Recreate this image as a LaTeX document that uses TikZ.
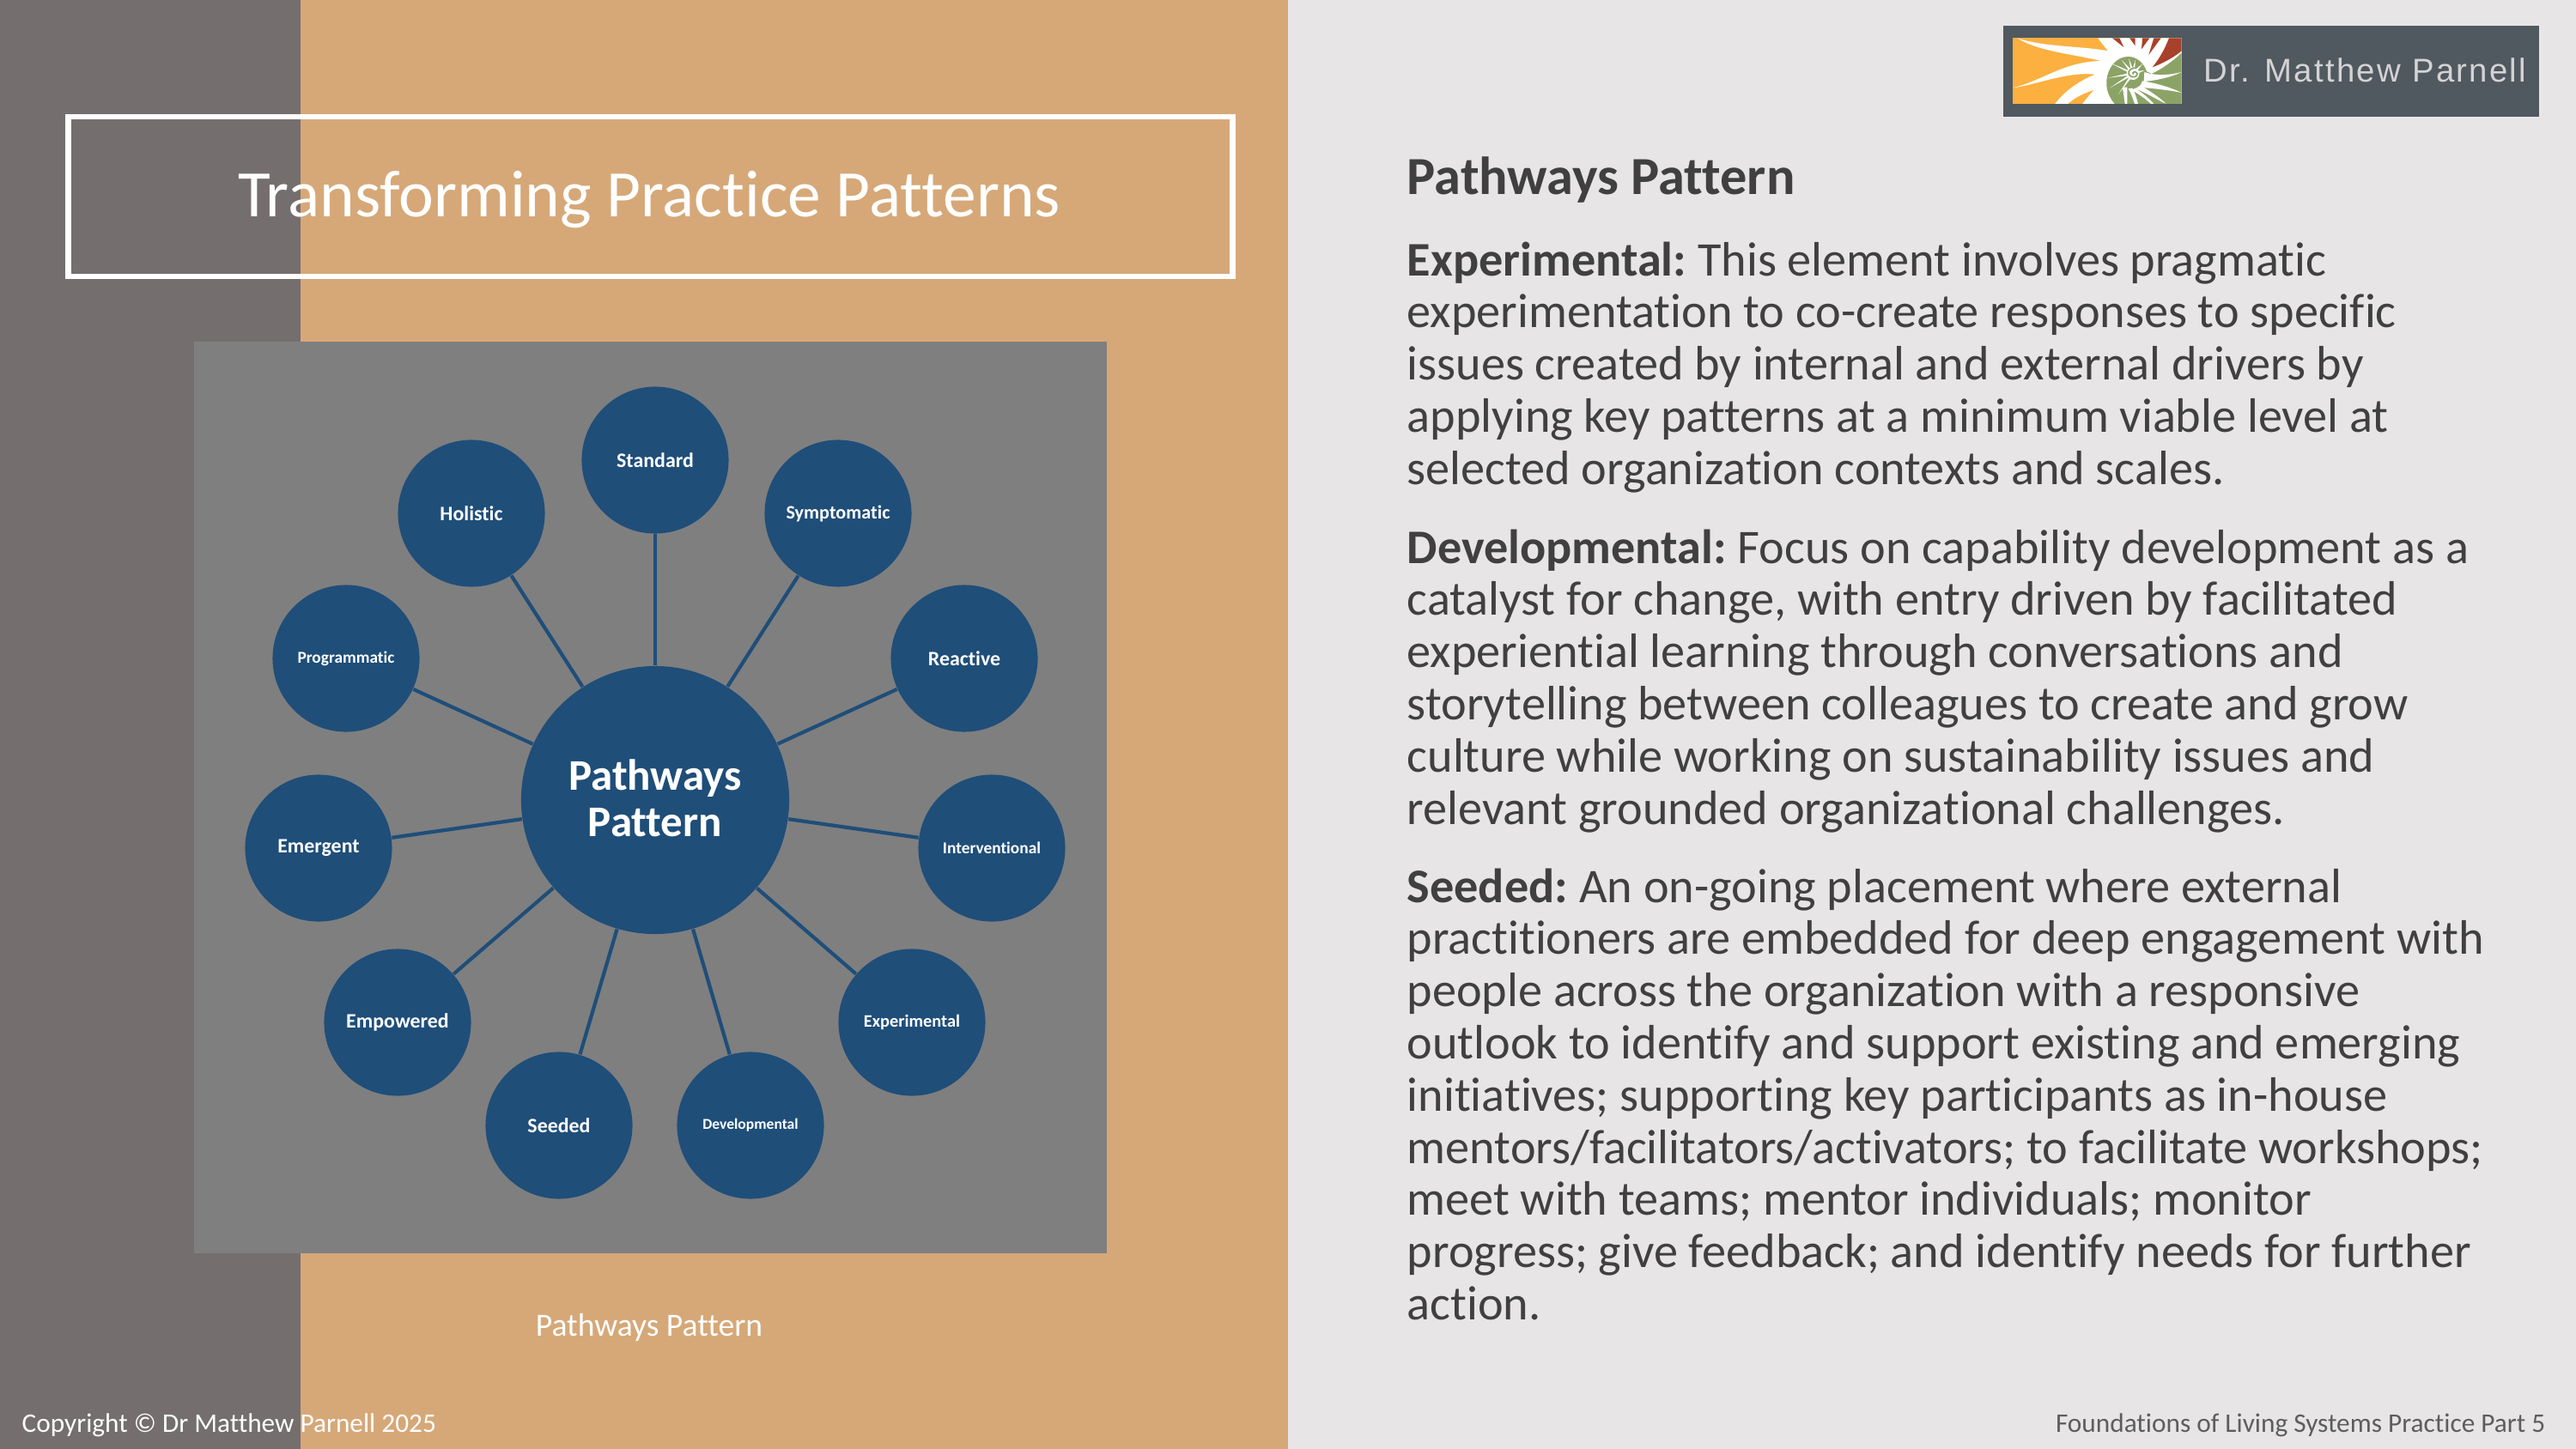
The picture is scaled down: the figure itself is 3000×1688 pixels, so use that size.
\documentclass[tikz,border=0pt]{standalone}
\usepackage{fontspec}
\setmainfont[Ligatures=NoCommon]{Carlito}
\newfontfamily\logofont[LetterSpace=6]{Liberation Sans}
\definecolor{tanbg}{HTML}{D6A878}
\definecolor{darkbg}{HTML}{746E6E}
\definecolor{panelbg}{HTML}{E7E5E6}
\definecolor{boxgray}{HTML}{7F7F7F}
\definecolor{hubblue}{HTML}{1F4E79}
\definecolor{logobar}{HTML}{505860}
\definecolor{bodytext}{HTML}{404040}
\definecolor{logoorange}{HTML}{FBB040}
\definecolor{logogreen}{HTML}{8CA366}
\definecolor{logored}{HTML}{A8412B}
\newcommand{\leadin}[1]{\textbf{#1}\kern-1.1pt\relax}
\tikzset{
  hub/.style={circle,fill=hubblue,text=white,minimum size=3.12cm,inner sep=0pt,align=center,font=\fontsize{14.5}{15.6}\selectfont\bfseries},
  leaf/.style={circle,fill=hubblue,text=white,minimum size=1.71cm,inner sep=0pt,align=center,font=\fontsize{#1}{9}\selectfont\bfseries},
  leaf/.default=6.8,
  spoke/.style={draw=hubblue,line width=1.2pt},
  para/.style={anchor=north west,inner sep=0pt,align=left,text=bodytext,font=\fontsize{16}{17.28}\selectfont},
}
\begin{document}
\begin{tikzpicture}[x=0.01cm,y=-0.01cm]
\useasboundingbox (0,0) rectangle (3000,1688);
% background
\fill[tanbg] (0,0) rectangle (1500,1688);
\fill[darkbg] (0,0) rectangle (350,1688);
\fill[panelbg] (1500,0) rectangle (3000,1688);
% title
\node[draw=white,line width=1.8pt,minimum width=13.55cm,minimum height=1.86cm,inner sep=0pt] (titlebox) at (757.5,229) {};
\node[text=white,font=\fontsize{22}{24}\selectfont,inner sep=0pt] (titletext) at (756,233) {Transforming Practice Patterns};
% wheel
\fill[boxgray] (226,398) rectangle (1289,1460);
\node[hub] (pathways) at (763,932) {Pathways\\Pattern\rule[-1.4pt]{0pt}{1.4pt}};
\node[leaf] (standard) at (763,536) {Standard};
\node[leaf=6.3] (symptomatic) at (976,598) {Symptomatic};
\node[leaf] (reactive) at (1123,767) {Reactive};
\node[leaf=5.5] (interventional) at (1155,988) {Interventional};
\node[leaf=5.8] (experimental) at (1062,1191) {Experimental};
\node[leaf=5] (developmental) at (874,1311) {Developmental};
\node[leaf] (seeded) at (651,1311) {Seeded};
\node[leaf] (empowered) at (463,1191) {Empowered};
\node[leaf] (emergent) at (371,988) {Emergent};
\node[leaf=5.5] (programmatic) at (403,767) {Programmatic};
\node[leaf] (holistic) at (549,598) {Holistic};
\foreach \n in {standard,symptomatic,reactive,interventional,experimental,developmental,seeded,empowered,emergent,programmatic,holistic}
  \draw[spoke] (pathways) -- (\n);
\node[text=white,font=\fontsize{10.7}{12}\selectfont,inner sep=0pt] (caption) at (756,1546) {Pathways Pattern};
% logo
\fill[logobar] (2333,30) rectangle (2957,136);
\begin{scope}[shift={(2340,40)},xscale=0.3333,yscale=0.3333]
\clip (12,13) rectangle (602,243);
\fill[logoorange] (12,13) rectangle (602,243);
% white swirl
\fill[white] (28,13) .. controls (120,45) and (250,40) .. (345,58) .. controls (330,40) and (318,25) .. (310,13) -- (602,13) -- (602,243) -- (160,243) .. controls (195,195) and (250,160) .. (300,140) .. controls (200,130) and (100,175) .. (12,187) .. controls (110,165) and (190,95) .. (320,93) .. controls (230,70) and (100,60) .. (28,13) -- cycle;
\fill[logoorange] (205,243) .. controls (230,220) and (265,205) .. (295,195) .. controls (280,210) and (265,230) .. (255,243) -- cycle;
% red wedges
\fill[logored] (360,13) -- (400,45) -- (385,13) -- cycle;
\fill[logored] (420,13) -- (440,40) -- (440,13) -- cycle;
\fill[logored] (465,13) -- (462,52) -- (490,13) -- cycle;
\fill[logored] (505,13) -- (487,72) -- (530,13) -- cycle;
\fill[logored] (558,13) .. controls (540,60) and (520,90) .. (500,115) .. controls (540,100) and (575,80) .. (602,58) -- (602,13) -- cycle;
% green disc and right part
\fill[logogreen] (415,78) .. controls (445,78) and (470,100) .. (480,130) -- (498,138) .. controls (535,120) and (570,95) .. (602,65) -- (602,243) -- (368,243) .. controls (345,215) and (338,190) .. (340,160) .. controls (345,115) and (375,78) .. (415,78) -- cycle;
% rays and spiral
\fill[white] (472,132) .. controls (520,148) and (570,140) .. (602,132) .. controls (565,150) and (520,160) .. (470,165) -- cycle;
\fill[white] (465,163) .. controls (520,172) and (570,188) .. (602,204) .. controls (560,195) and (510,190) .. (455,185) -- cycle;
\fill[white] (458,178) .. controls (490,198) and (525,220) .. (548,243) .. controls (510,225) and (480,205) .. (440,190) -- cycle;
\fill[white] (440,188) .. controls (465,205) and (490,225) .. (505,243) -- (495,243) .. controls (470,220) and (445,205) .. (428,195) -- cycle;
\fill[white] (430,188) .. controls (440,205) and (445,225) .. (450,243) -- (438,243) .. controls (432,225) and (425,205) .. (416,190) -- cycle;
\fill[white] (412,185) -- (412,243) -- (404,243) -- (396,185) -- cycle;
\foreach \a/\l in {-155/85,-130/62,-105/55,-80/48,-45/48,-15/42,170/88,148/95,125/90}
  \fill[white] ([shift={(432,137)}]\a-10:20) -- ([shift={(432,137)}]\a:\l) -- ([shift={(432,137)}]\a+10:20) -- cycle;
\fill[white] (432,137) circle[radius=22];
\draw[logogreen,line width=0.5pt] (434,140) .. controls (426,132) and (442,126) .. (447,137) .. controls (450,150) and (425,155) .. (418,140) .. controls (413,125) and (430,115) .. (445,118);
\end{scope}
\node[text=panelbg!92!black,font=\fontsize{10.9}{11}\logofont,inner sep=0pt,anchor=west] (logoname) at (2566,82) {Dr. Matthew Parnell};
% right panel
\node[anchor=west,inner sep=0pt,text=bodytext,font=\fontsize{17.75}{20}\selectfont\bfseries] (heading) at (1638,210) {Pathways Pattern};
\node[para] (experimentalpara) at (1638,281) {\leadin{Experimental:} This element involves pragmatic\\experimentation to co-create responses to specific\\issues created by internal and external drivers by\\applying key patterns at a minimum viable level at\\selected organization contexts and scales.};
\node[para] (developmentalpara) at (1638,616) {\leadin{Developmental:} Focus on capability development as a\\catalyst for change, with entry driven by facilitated\\experiential learning through conversations and\\storytelling between colleagues to create and grow\\culture while working on sustainability issues and\\relevant grounded organizational challenges.};
\node[para] (seededpara) at (1638,1011) {\leadin{Seeded:} An on-going placement where external\\practitioners are embedded for deep engagement with\\people across the organization with a responsive\\outlook to identify and support existing and emerging\\initiatives; supporting key participants as in-house\\mentors/facilitators/activators; to facilitate workshops;\\meet with teams; mentor individuals; monitor\\progress; give feedback; and identify needs for further\\action.};
% footer
\node[anchor=west,inner sep=0pt,text=white,font=\fontsize{8.9}{10}\selectfont] (copyright) at (25,1660) {Copyright © Dr Matthew Parnell 2025};
\node[anchor=east,inner sep=0pt,text=bodytext!85!white,font=\fontsize{8.9}{10}\selectfont] (footer) at (2965,1660) {Foundations of Living Systems Practice Part 5};
\end{tikzpicture}
\end{document}
